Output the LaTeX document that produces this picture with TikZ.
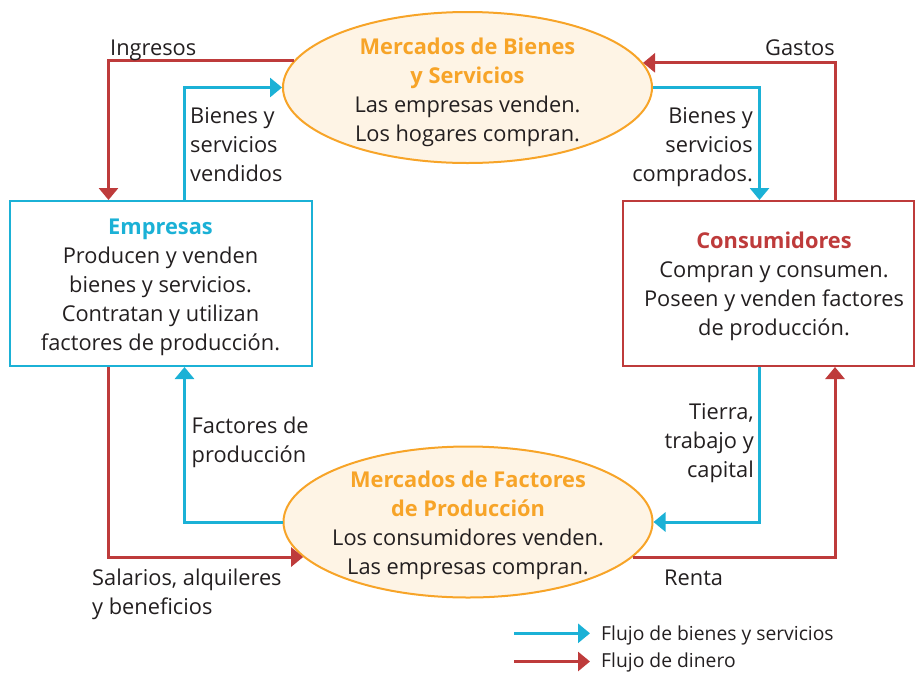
\documentclass[tikz,border=0pt]{standalone}
\usepackage{fontspec}
\setmainfont{Open Sans}
\usetikzlibrary{shapes.geometric,arrows.meta}
\definecolor{cblue}{HTML}{1BB1D6}
\definecolor{cred}{HTML}{BE3B3B}
\definecolor{corange}{HTML}{F7A428}
\definecolor{ccream}{HTML}{FEF4E5}
\definecolor{ink}{HTML}{231F20}
\newcommand\tstr{\rule{0pt}{18pt}}
\begin{document}
\begin{tikzpicture}[x=1pt,y=-1pt,
  txt/.style={inner sep=0pt, text=ink, font=\fontsize{21.8}{29}\selectfont},
  lgtxt/.style={inner sep=0pt, text=ink, font=\fontsize{19.3}{28}\selectfont},
  mkt/.style={ellipse, draw=corange, fill=ccream, line width=2pt, minimum width=369pt, minimum height=151pt, inner sep=0pt},
  agent/.style={line width=2pt, inner sep=0pt, minimum height=165pt},
  goods/.style={draw=cblue, line width=3pt, -{Triangle[length=12pt,width=19pt]}},
  money/.style={draw=cred, line width=3pt, -{Triangle[length=12pt,width=19pt]}}]
\useasboundingbox (0,0) rectangle (915,673);

% markets
\node[mkt] (gb) at (467.5,87.5) {};
\node[mkt] (fp) at (468,522) {};
% agents
\node[agent, draw=cblue, minimum width=302pt] (emp) at (160.5,283.5) {};
\node[agent, draw=cred, minimum width=291pt] (con) at (768.5,283.5) {};

% texts inside
\node[txt, align=center, anchor=north] (gbt) at (467.5,36)
  {\tstr\textcolor{corange}{\textbf{Mercados de Bienes}}\\\textcolor{corange}{\textbf{y Servicios}}\\Las empresas venden.\\Los hogares compran.};
\node[txt, align=center, anchor=north] (fpt) at (468,469.5)
  {\tstr\textcolor{corange}{\textbf{Mercados de Factores}}\\\textcolor{corange}{\textbf{de Producción}}\\Los consumidores venden.\\Las empresas compran.};
\node[txt, align=center, anchor=north] (empt) at (160.5,216.5)
  {\tstr\textcolor{cblue}{\textbf{Empresas}}\\Producen y venden\\bienes y servicios.\\Contratan y utilizan\\factores de producción.};
\node[txt, align=center, anchor=north] (cont) at (774,230.5)
  {\tstr\textcolor{cred}{\textbf{Consumidores}}\\Compran y consumen.\\Poseen y venden factores\\de producción.};

% column coordinates
\coordinate (xI) at (108.5,0);
\coordinate (xV) at (184.5,0);
\coordinate (xC) at (759.5,0);
\coordinate (xG) at (835,0);

% connectors
\draw[money] (gb.171.8) -| (emp.north -| xI);
\draw[goods] (emp.north -| xV) |- (gb.west);
\draw[money] (con.north -| xG) |- (gb.8.2);
\draw[goods] (gb.east) -| (con.north -| xC);
\draw[goods] (fp.west) -| (emp.south -| xV);
\draw[money] (emp.south -| xI) |- (fp.192.1);
\draw[money] (fp.-12.1) -| (con.south -| xG);
\draw[goods] (con.south -| xC) |- (fp.east);

% labels
\node[txt, anchor=base west] (ing) at (110,55) {Ingresos};
\node[txt, anchor=base east] (gas) at (835,55) {Gastos};
\node[txt, align=left, anchor=north west] (bsv) at (190,105.5) {\tstr Bienes y\\servicios\\vendidos};
\node[txt, align=right, anchor=north east] (bsc) at (753,105.5) {\tstr Bienes y\\servicios\\comprados.};
\node[txt, align=left, anchor=north west] (fac) at (191.5,415) {\tstr Factores de\\producción};
\node[txt, align=right, anchor=north east] (ttc) at (754,401) {\tstr Tierra,\\trabajo y\\capital};
\node[txt, align=left, anchor=north west] (sab) at (92,567.5) {\tstr Salarios, alquileres\\y beneficios};
\node[txt, anchor=base west] (ren) at (664,585) {Renta};

% legend
\coordinate (la1) at (514,633.3);
\coordinate (la2) at (590,633.3);
\coordinate (lb1) at (514,661.5);
\coordinate (lb2) at (590,661.5);
\draw[goods] (la1) -- (la2);
\draw[money] (lb1) -- (lb2);
\node[lgtxt, anchor=base west] (lat) at (601,640) {Flujo de bienes y servicios};
\node[lgtxt, anchor=base west] (lbt) at (601,667.5) {Flujo de dinero};
\end{tikzpicture}
\end{document}
